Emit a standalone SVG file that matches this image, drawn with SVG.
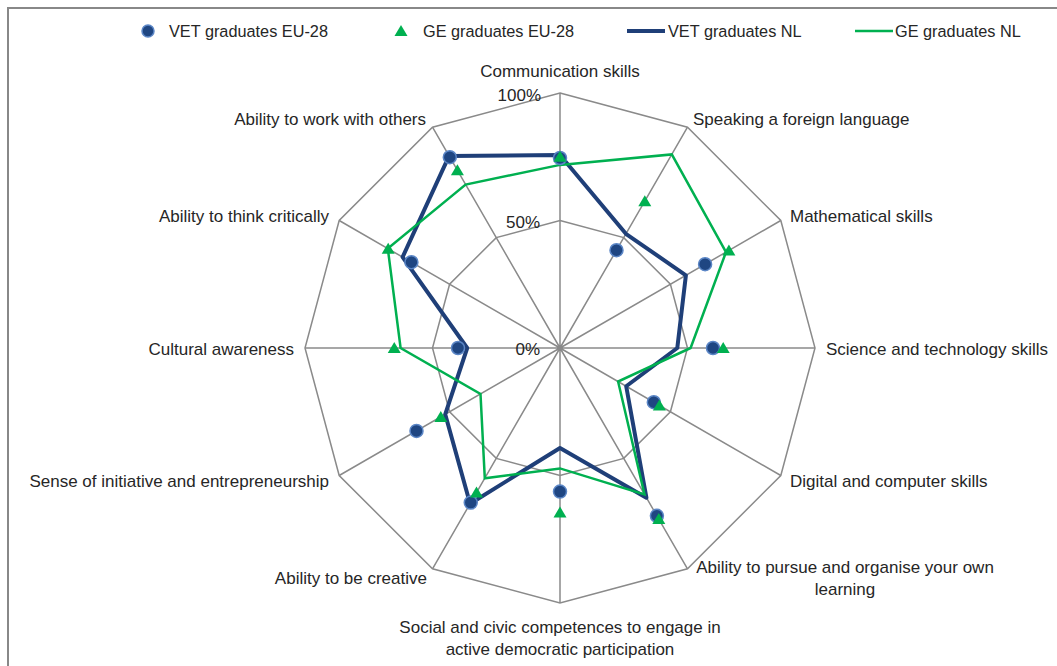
<svg xmlns="http://www.w3.org/2000/svg" xmlns:xlink="http://www.w3.org/1999/xlink" width="1057" height="666" viewBox="0 0 1057 666">
<style>
text{font-family:"Liberation Sans",Arial,sans-serif;font-size:17px;fill:#262626}
.lg{font-size:16.3px}
.grid{fill:none;stroke:#8a8a8a;stroke-width:1.5}
.vetnl{fill:none;stroke:#1f3f78;stroke-width:4;stroke-linejoin:round}
.genl{fill:none;stroke:#00b050;stroke-width:2.5;stroke-linejoin:miter}
.dot{fill:#1f4682;stroke:#5b86c6;stroke-width:1.5}
.tri{fill:#00b050}
</style>
<defs>
<path id="t" class="tri" d="M0,-6 L6.5,5 L-6.5,5Z"/>
</defs>
<rect x="8" y="8" width="1060" height="670" fill="#fff" stroke="#888" stroke-width="2"/>
<g id="legend">
<circle class="dot" cx="148" cy="31" r="6"/>
<text class="lg" x="169" y="36.5">VET graduates EU-28</text>
<use xlink:href="#t" x="401" y="31"/>
<text class="lg" x="423" y="36.5">GE graduates EU-28</text>
<line x1="627" y1="31" x2="665" y2="31" class="vetnl"/>
<text class="lg" x="668" y="36.5">VET graduates NL</text>
<line x1="855" y1="31" x2="893" y2="31" class="genl"/>
<text class="lg" x="895" y="36.5">GE graduates NL</text>
</g>
<g id="grid">
<polygon class="grid" points="560,93 687.5,127.2 780.8,220.5 815,348 780.8,475.5 687.5,568.8 560,603 432.5,568.8 339.2,475.5 305,348 339.2,220.5 432.5,127.2"/>
<polygon class="grid" points="560,220.5 623.75,237.6 670.4,284.25 687.5,348 670.4,411.75 623.75,458.4 560,475.5 496.25,458.4 449.6,411.75 432.5,348 449.6,284.25 496.25,237.6"/>
<path class="grid" d="M560,348L560,93M560,348L687.5,127.2M560,348L780.8,220.5M560,348L815,348M560,348L780.8,475.5M560,348L687.5,568.8M560,348L560,603M560,348L432.5,568.8M560,348L339.2,475.5M560,348L305,348M560,348L339.2,220.5M560,348L432.5,127.2"/>
</g>
<g id="axis-labels">
<text x="560" y="77" text-anchor="middle">Communication skills</text>
<text x="541" y="101" text-anchor="end">100%</text>
<text x="540" y="228" text-anchor="end">50%</text>
<text x="540" y="355" text-anchor="end">0%</text>
<text x="693" y="125">Speaking a foreign language</text>
<text x="790" y="222">Mathematical skills</text>
<text x="826" y="355">Science and technology skills</text>
<text x="790" y="487">Digital and computer skills</text>
<text x="845" y="573" text-anchor="middle">Ability to pursue and organise your own</text>
<text x="845" y="595" text-anchor="middle">learning</text>
<text x="560" y="633" text-anchor="middle">Social and civic competences to engage in</text>
<text x="560" y="655" text-anchor="middle">active democratic participation</text>
<text x="427" y="584" text-anchor="end">Ability to be creative</text>
<text x="329" y="487" text-anchor="end">Sense of initiative and entrepreneurship</text>
<text x="294" y="355" text-anchor="end">Cultural awareness</text>
<text x="329" y="222" text-anchor="end">Ability to think critically</text>
<text x="426" y="125" text-anchor="end">Ability to work with others</text>
</g>
<g id="series-lines">
<polygon class="vetnl" points="560,155 625.9,233.8 685.9,275.3 677.3,348 626.2,386.25 646.4,497.7 560,448 470.1,503.7 445.2,414.3 467.2,348 402.6,257.1 449.1,155.9"/>
<polygon class="genl" points="560,164.9 671.8,154.4 726,252.1 690.6,348 618.1,381.5 644.5,494.4 560,468.4 484.8,478.3 480.5,393.9 400.6,348 387.8,248.5 465.6,184.6"/>
</g>
<g id="vet-eu">
<circle class="dot" cx="560" cy="158" r="6.5"/>
<circle class="dot" cx="616.5" cy="250.2" r="6.5"/>
<circle class="dot" cx="705.1" cy="264.2" r="6.5"/>
<circle class="dot" cx="713" cy="348" r="6.5"/>
<circle class="dot" cx="653.8" cy="402.2" r="6.5"/>
<circle class="dot" cx="656.9" cy="515.8" r="6.5"/>
<circle class="dot" cx="560" cy="491.6" r="6.5"/>
<circle class="dot" cx="470.75" cy="502.6" r="6.5"/>
<circle class="dot" cx="416.5" cy="430.9" r="6.5"/>
<circle class="dot" cx="458" cy="348" r="6.5"/>
<circle class="dot" cx="411.4" cy="262.2" r="6.5"/>
<circle class="dot" cx="449.8" cy="157.2" r="6.5"/>
</g>
<g id="ge-eu">
<use xlink:href="#t" x="560" y="156.8"/>
<use xlink:href="#t" x="644.8" y="201.2"/>
<use xlink:href="#t" x="728.9" y="250.5"/>
<use xlink:href="#t" x="723.2" y="348"/>
<use xlink:href="#t" x="659.4" y="405.4"/>
<use xlink:href="#t" x="658.8" y="519.1"/>
<use xlink:href="#t" x="560" y="512.5"/>
<use xlink:href="#t" x="476.5" y="492.6"/>
<use xlink:href="#t" x="440.8" y="416.9"/>
<use xlink:href="#t" x="394.25" y="348"/>
<use xlink:href="#t" x="388.2" y="248.8"/>
<use xlink:href="#t" x="457.4" y="170.3"/>
</g>
</svg>
